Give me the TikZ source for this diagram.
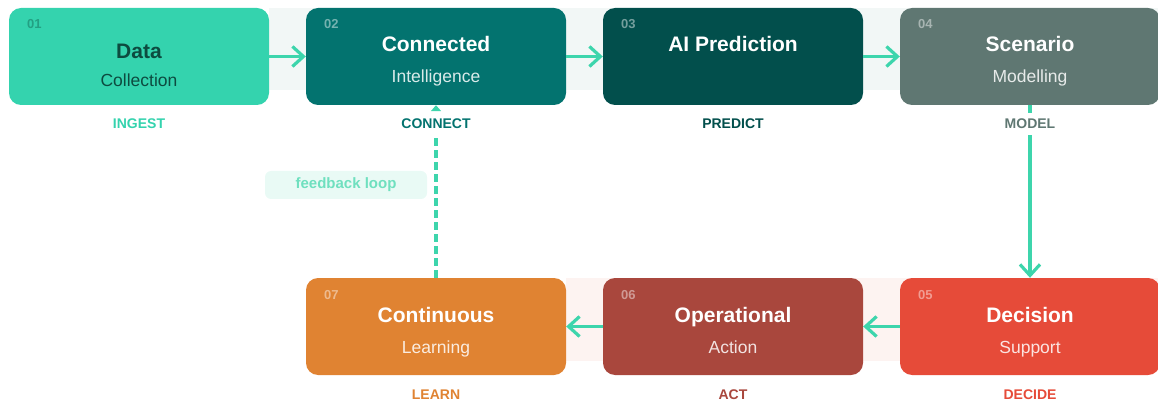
\documentclass[tikz,border=0pt]{standalone}
\usepackage{fontspec}
\setmainfont{Liberation Sans}
\usetikzlibrary{arrows.meta}
\definecolor{mint}{HTML}{34D3AE}
\definecolor{mintdark}{HTML}{23A083}
\definecolor{ink}{HTML}{0D4B40}
\definecolor{teal}{HTML}{03736F}
\definecolor{deepteal}{HTML}{024F4C}
\definecolor{slate}{HTML}{5F7772}
\definecolor{redc}{HTML}{E64B39}
\definecolor{brick}{HTML}{A9473D}
\definecolor{orangec}{HTML}{E08332}
\definecolor{topband}{HTML}{F2F7F6}
\definecolor{botband}{HTML}{FDF3F1}
\definecolor{fbbg}{HTML}{E9FAF5}
\definecolor{fbtext}{HTML}{6FE0BF}
\definecolor{arrowc}{HTML}{3DD5AC}
\begin{document}
\begin{tikzpicture}[x=1pt,y=-1pt,
  box/.style={rounded corners=12pt, minimum width=260pt, minimum height=97pt, inner sep=0pt, draw=none},
  title/.style={anchor=base, font=\fontsize{21}{25}\selectfont\bfseries, text=white},
  sub/.style={anchor=base, font=\fontsize{17.5}{21}\selectfont, text=white, text opacity=0.85},
  num/.style={anchor=base west, inner sep=0pt, font=\fontsize{13}{15}\selectfont\bfseries, text=white, text opacity=0.45},
  lab/.style={anchor=base, fill=white, inner xsep=4pt, inner ysep=6pt, font=\fontsize{14}{16}\selectfont\bfseries},
  arr/.style={draw=arrowc, line width=3.2pt, -{Straight Barb[length=11pt,width=20pt]}},
  fbarr/.style={draw=arrowc, line width=3.2pt, dash pattern=on 7.5pt off 4.5pt, -{Triangle[length=6pt,width=10pt]}}
]
\useasboundingbox (0,0) rectangle (1158,403);
% bands
\fill[topband] (269,8) rectangle (1158,90);
\fill[botband] (566,278) rectangle (1158,361);
% boxes
\node[box, fill=mint] (b1) at (139,56.5) {};
\node[box, fill=teal] (b2) at (436,56.5) {};
\node[box, fill=deepteal] (b3) at (733,56.5) {};
\node[box, fill=slate] (b4) at (1030,56.5) {};
\node[box, fill=redc] (b5) at (1030,326.5) {};
\node[box, fill=brick] (b6) at (733,326.5) {};
\node[box, fill=orangec] (b7) at (436,326.5) {};
% connectors
\draw[arr] (b1.east) -- (b2.west);
\draw[arr] (b2.east) -- (b3.west);
\draw[arr] (b3.east) -- (b4.west);
\draw[arr] (b4.south) -- (b5.north);
\draw[arr] (b5.west) -- (b6.east);
\draw[arr] (b6.west) -- (b7.east);
\draw[fbarr] (b7.north) -- (b2.south);
% numbers
\node[num, text=mintdark, text opacity=1] (n1) at (27,29) {01};
\node[num] (n2) at (324,29) {02};
\node[num] (n3) at (621,29) {03};
\node[num] (n4) at (918,29) {04};
\node[num] (n5) at (918,299) {05};
\node[num] (n6) at (621,299) {06};
\node[num] (n7) at (324,299) {07};
% titles
\node[title, text=ink] (t1) at (139,58.5) {Data};
\node[sub, text=ink, text opacity=1] (s1) at (139,87) {Collection};
\node[title] (t2) at (436,52) {Connected};
\node[sub] (s2) at (436,83) {Intelligence};
\node[title] (t3) at (733,52) {AI Prediction};
\node[title] (t4) at (1030,52) {Scenario};
\node[sub] (s4) at (1030,83) {Modelling};
\node[title] (t5) at (1030,322) {Decision};
\node[sub] (s5) at (1030,353) {Support};
\node[title] (t6) at (733,322) {Operational};
\node[sub] (s6) at (733,353) {Action};
\node[title] (t7) at (436,322) {Continuous};
\node[sub] (s7) at (436,353) {Learning};
% stage labels
\node[lab, text=mint] (l1) at (139,129) {INGEST};
\node[lab, text=teal] (l2) at (436,129) {CONNECT};
\node[lab, text=deepteal] (l3) at (733,129) {PREDICT};
\node[lab, text=slate] (l4) at (1030,129) {MODEL};
\node[lab, text=redc] (l5) at (1030,399) {DECIDE};
\node[lab, text=brick] (l6) at (733,399) {ACT};
\node[lab, text=orangec] (l7) at (436,399) {LEARN};
% feedback label
\node[fill=fbbg, rounded corners=6pt, minimum width=162pt, minimum height=28pt, inner sep=0pt, text=fbtext, font=\fontsize{15}{18}\selectfont\bfseries] (fb) at (346,185) {feedback loop};
\end{tikzpicture}
\end{document}
